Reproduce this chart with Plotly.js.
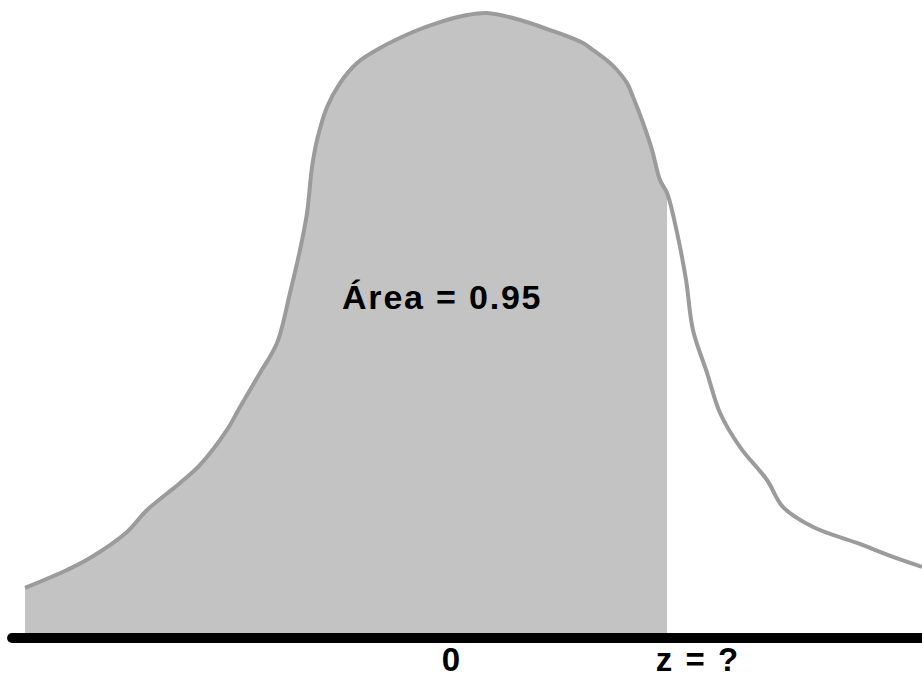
<!DOCTYPE html>
<html>
<head>
<meta charset="utf-8">
<script src="https://cdn.plot.ly/plotly-3.0.1.min.js"></script>
<style>
html,body{margin:0;padding:0;background:#fff;}
#chart{width:922px;height:682px;}
.annotation-text{letter-spacing:1.8px;}
.textpoint text{letter-spacing:2px;}
</style>
</head>
<body>
<div id="chart"></div>
<script>
// Curve: z value and density height
const curveZ = [-3.328,-3.001,-2.822,-2.533,-2.377,-2.120,-1.964,-1.754,-1.652,-1.497,-1.364,-1.263,-1.185,-1.130,-1.091,-1.052,-0.974,-0.873,-0.740,-0.561,-0.304,-0.094,0.117,0.273,0.475,0.764,1.021,1.099,1.231,1.286,1.364,1.411,1.489,1.559,1.621,1.676,1.754,1.824,1.878,1.988,2.089,2.245,2.455,2.580,2.814,3.157,3.437,3.663];
const curveD = [0.0322,0.0437,0.0514,0.0682,0.0823,0.0997,0.1113,0.1338,0.1486,0.1704,0.1897,0.2219,0.2495,0.2733,0.3029,0.3203,0.3415,0.3569,0.3698,0.3794,0.3897,0.3961,0.4006,0.4019,0.3987,0.3910,0.3826,0.3781,0.3698,0.3653,0.3569,0.3479,0.3312,0.3138,0.2945,0.2862,0.2605,0.2302,0.1981,0.1704,0.1447,0.1228,0.1016,0.0842,0.0714,0.0611,0.0521,0.0457];
const zCut = 1.676;            // right edge of shaded area
const baseZ = [-3.429, 3.70];  // extent of the horizontal axis line
const areaLabel = "Área = 0.95";
const tickLabels = ["0", "z = ?"];
const tickLabelZ = [0, 1.917];
const tickLabelD = [-0.0161, -0.0161];

const shadeZ = [], shadeD = [];
for (let i = 0; i < curveZ.length; i++) {
  if (curveZ[i] <= zCut + 1e-9) { shadeZ.push(curveZ[i]); shadeD.push(curveD[i]); }
}

const fam = "Liberation Sans, Arial, sans-serif";

const data = [
  {x: shadeZ, y: shadeD, type: "scatter", mode: "lines", fill: "tozeroy",
   fillcolor: "#c3c3c3", line: {width: 0, shape: "spline", smoothing: 1}, hoverinfo: "skip"},
  {x: curveZ, y: curveD, type: "scatter", mode: "lines",
   line: {color: "#9b9b9b", width: 4, shape: "spline", smoothing: 1}, hoverinfo: "skip"},
  {x: baseZ, y: [0, 0], type: "scatter", mode: "lines",
   line: {color: "#000", width: 10}, hoverinfo: "skip"},
  {x: [baseZ[0]], y: [0], type: "scatter", mode: "markers",
   marker: {color: "#000", size: 10}, hoverinfo: "skip"},
  {x: tickLabelZ, y: tickLabelD, type: "scatter", mode: "text", text: tickLabels,
   textposition: "middle center",
   textfont: {family: fam, size: 33, color: "#000", weight: "bold"}, hoverinfo: "skip"}
];

const layout = {
  width: 922, height: 682,
  margin: {l: 0, r: 0, t: 0, b: 0},
  paper_bgcolor: "#fff", plot_bgcolor: "#fff",
  showlegend: false,
  xaxis: {range: [-3.523, 3.663], visible: false, fixedrange: true},
  yaxis: {range: [-0.0283, 0.4103], visible: false, fixedrange: true},
  annotations: [
    {x: -0.078, y: 0.2193, text: areaLabel, showarrow: false,
     font: {family: fam, size: 34, color: "#000", weight: "bold"},
     xanchor: "center", yanchor: "middle"}
  ]
};

Plotly.newPlot("chart", data, layout, {staticPlot: true, displayModeBar: false});
</script>
</body>
</html>
